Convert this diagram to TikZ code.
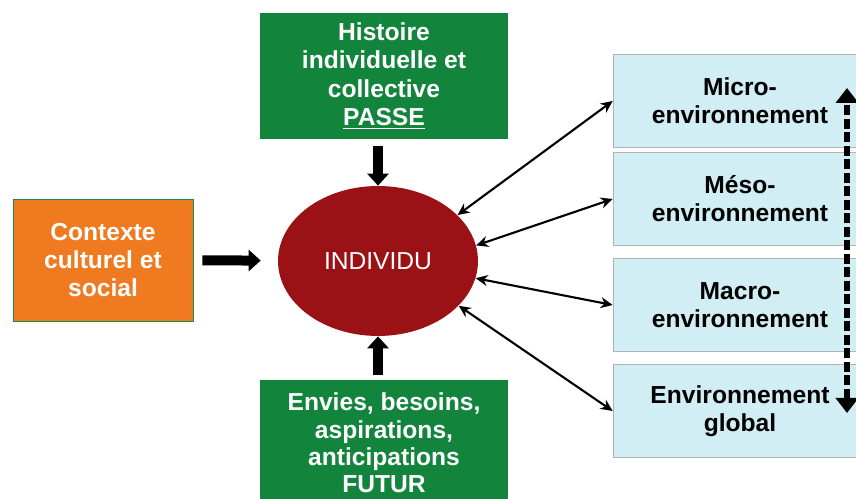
\documentclass[tikz,border=0pt]{standalone}
\usepackage{fontspec}
\setmainfont{Liberation Sans}
\usetikzlibrary{shapes.geometric, arrows.meta}
\definecolor{ctxorange}{RGB}{240,122,32}
\definecolor{ctxedge}{RGB}{20,140,80}
\definecolor{tempsgreen}{RGB}{18,132,60}
\definecolor{indivred}{RGB}{155,18,22}
\definecolor{envblue}{RGB}{208,238,243}

\begin{document}
\begin{tikzpicture}[x=0.02cm, y=-0.02cm,
    every node/.style={align=center, font=\fontsize{14}{16}\selectfont\bfseries},
    greenbox/.style={rectangle, fill=tempsgreen, text=white, minimum width=4.96cm, minimum height=2.52cm},
    envbox/.style={rectangle, fill=envblue, draw=gray!60, text=black, minimum width=5.08cm, minimum height=1.86cm},
    bigarrow/.style={line width=0.2cm, -{Triangle[length=0.24cm, width=0.42cm]}},
    linkarrow/.style={line width=1.2pt, {Stealth[length=0.24cm, width=0.22cm]}-{Stealth[length=0.24cm, width=0.22cm]}},
    scalearrow/.style={line width=0.11cm, dash pattern=on 0.2cm off 0.07cm, {Triangle[length=0.3cm, width=0.44cm]}-{Triangle[length=0.3cm, width=0.44cm]}}]
  \clip (0,0) rectangle (856,499);

  \node[rectangle, fill=ctxorange, draw=ctxedge, text=white, minimum width=3.6cm, minimum height=2.44cm] (contexte) at (103,260) {Contexte\\culturel et\\social};
  \node[greenbox] (passe) at (384,76) {Histoire\\individuelle et\\collective\\\underline{PASSE}};
  \node[greenbox, font=\fontsize{14}{15.6}\selectfont\bfseries] (futur) at (384,443) {Envies, besoins,\\aspirations,\\anticipations\\FUTUR};
  \node[ellipse, fill=indivred, text=white, inner sep=0pt, minimum width=4cm, minimum height=3cm,
        font=\fontsize{14}{16}\selectfont\mdseries] (individu) at (378,261) {INDIVIDU};

  \node[envbox] (micro) at (740,101) {Micro-\\environnement};
  \node[envbox] (meso) at (740,199) {Méso-\\environnement};
  \node[envbox] (macro) at (740,305) {Macro-\\environnement};
  \node[envbox] (global) at (740,411) {Environnement\\global};

  % influences vers l'individu
  \draw[bigarrow, shorten <=0.18cm, shorten >=0.34cm] (contexte) -- (individu);
  \draw[bigarrow, shorten <=0.14cm] (passe.south -| individu.center) -- (individu.north);
  \draw[bigarrow, shorten <=0.1cm] (futur.north -| individu.center) -- (individu.south);

  % liens avec les environnements
  \draw[linkarrow] (individu.30) -- (micro.west);
  \draw[linkarrow] (individu.9) -- (meso.west);
  \draw[linkarrow] (individu.-10) -- (macro.west);
  \draw[linkarrow] (individu.-29) -- (global.west);

  \coordinate (haut) at (847,88);
  \coordinate (bas) at (847,413);
  \draw[scalearrow] (bas) -- (haut);
\end{tikzpicture}
\end{document}
